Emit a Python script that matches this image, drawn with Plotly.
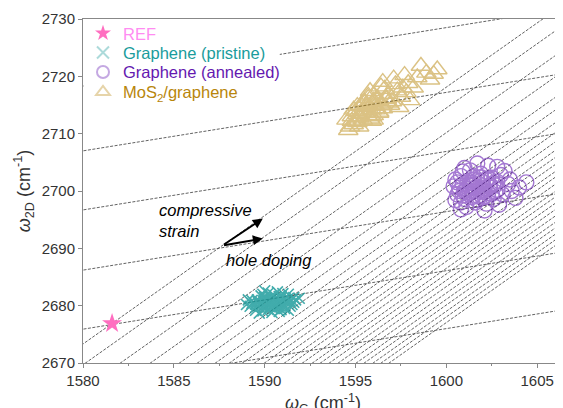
import plotly.graph_objects as go

# ---------------- data ----------------
ref_G = [1581.6]
ref_2D = [2676.9]

pristine_G = [1590.4, 1589.8, 1591.0, 1590.1, 1590.7, 1589.5, 1591.3, 1590.2, 1590.9, 1589.3,
              1591.5, 1590.5, 1589.9, 1590.0, 1591.1, 1589.6, 1590.6, 1590.3, 1591.3, 1589.5,
              1590.8, 1591.7, 1589.2, 1590.2, 1590.4, 1591.2, 1589.7, 1590.0, 1590.9, 1591.6,
              1589.3, 1590.6, 1590.1, 1591.4, 1589.8, 1590.7, 1589.0, 1591.9, 1590.5, 1589.7,
              1591.0, 1590.3, 1591.6, 1589.1, 1590.8, 1589.9, 1591.3, 1590.0, 1589.5, 1591.1,
              1590.2, 1590.6, 1590.0, 1590.8, 1590.4, 1589.8, 1591.0, 1590.3, 1590.5, 1590.1,
              1590.7, 1589.9, 1591.2, 1590.4, 1590.6, 1589.6, 1590.9, 1590.2, 1591.1, 1590.0,
              1590.5, 1589.7, 1590.8, 1590.3, 1591.4, 1589.9, 1590.6, 1590.1, 1590.9, 1590.4]
pristine_2D = [2680.5, 2680.1, 2680.9, 2681.1, 2679.8, 2679.7, 2681.3, 2679.3, 2681.6, 2680.4,
               2680.2, 2681.8, 2679.1, 2681.5, 2679.5, 2681.0, 2680.0, 2681.0, 2682.0, 2679.2,
               2680.4, 2681.0, 2679.9, 2682.2, 2678.8, 2680.6, 2680.7, 2680.0, 2679.3, 2681.4,
               2680.9, 2681.4, 2679.7, 2679.9, 2681.7, 2682.4, 2680.2, 2681.3, 2679.5, 2678.7,
               2682.1, 2680.2, 2680.6, 2681.0, 2679.0, 2682.0, 2679.2, 2682.6, 2680.3, 2681.2,
               2680.3, 2680.8, 2680.6, 2680.0, 2681.2, 2680.5, 2680.3, 2679.8, 2680.9, 2681.4,
               2681.0, 2679.9, 2680.7, 2680.0, 2679.6, 2680.8, 2681.3, 2680.6, 2680.0, 2681.1,
               2680.4, 2680.2, 2681.6, 2681.5, 2680.8, 2680.9, 2680.4, 2680.3, 2680.6, 2679.7]

annealed_G = [1601.8, 1601.2, 1602.4, 1600.9, 1602.1, 1601.5, 1600.7, 1602.8, 1601.0, 1602.5,
              1600.6, 1603.1, 1601.6, 1601.9, 1600.9, 1603.4, 1602.2, 1600.7, 1601.3, 1603.0,
              1600.6, 1602.6, 1601.4, 1602.0, 1600.8, 1603.6, 1601.1, 1602.9, 1600.5, 1602.3,
              1604.4, 1600.8, 1603.2, 1601.7, 1600.4, 1602.7, 1601.0, 1603.8, 1600.9, 1602.1,
              1601.5, 1601.0, 1603.5, 1602.4, 1600.5, 1601.9, 1604.0, 1600.8, 1602.8, 1601.3,
              1601.6, 1602.0, 1601.4, 1602.3, 1601.8, 1601.1, 1602.6, 1601.7, 1602.1, 1601.3,
              1601.9, 1602.4, 1601.5, 1602.0, 1601.2, 1602.7, 1601.6, 1601.9, 1602.2, 1601.4,
              1601.8, 1602.5, 1601.0, 1602.1, 1601.7, 1601.5, 1602.3, 1601.9, 1602.8, 1601.3]
annealed_2D = [2700.3, 2699.5, 2701.0, 2701.2, 2699.0, 2702.0, 2700.0, 2700.2, 2698.6, 2702.3,
               2701.5, 2699.4, 2698.0, 2703.0, 2699.2, 2701.2, 2697.8, 2700.6, 2703.6, 2702.8,
               2699.4, 2698.6, 2700.9, 2701.6, 2702.6, 2700.0, 2697.2, 2697.6, 2702.0, 2704.4,
               2701.5, 2698.0, 2703.5, 2704.8, 2700.8, 2699.8, 2700.0, 2698.8, 2703.4, 2696.6,
               2699.2, 2704.0, 2702.0, 2700.6, 2698.4, 2701.8, 2700.6, 2696.8, 2704.2, 2701.4,
               2700.0, 2700.8, 2701.4, 2699.6, 2699.0, 2700.4, 2701.4, 2701.9, 2699.8, 2700.9,
               2702.4, 2700.7, 2699.9, 2698.8, 2701.8, 2701.0, 2700.6, 2699.3, 2702.0, 2698.9,
               2701.2, 2699.5, 2699.9, 2700.5, 2698.4, 2702.6, 2702.2, 2700.1, 2701.6, 2699.7]

mos2_G = [1596.2, 1595.6, 1596.8, 1595.1, 1597.3, 1594.8, 1597.9, 1596.0, 1596.5, 1595.3,
          1597.0, 1595.0, 1595.9, 1596.6, 1594.7, 1598.4, 1595.7, 1597.5, 1596.3, 1594.9,
          1598.9, 1599.5, 1595.4, 1597.2, 1596.9, 1595.1, 1597.7, 1598.2, 1596.1, 1594.6,
          1595.8, 1596.4, 1594.8, 1597.4, 1598.6, 1595.2, 1596.7, 1597.8, 1595.5, 1599.1,
          1594.5, 1596.0, 1597.1, 1598.0, 1595.9, 1594.9, 1596.5, 1597.6, 1599.3, 1595.3,
          1595.6, 1596.1, 1595.2, 1596.4, 1595.8, 1595.4, 1596.7, 1596.0, 1595.5, 1596.3,
          1595.9, 1595.1, 1596.5, 1595.7, 1596.2, 1595.3, 1596.8, 1595.6, 1596.0, 1595.9]
mos2_2D = [2715.8, 2714.6, 2716.9, 2713.4, 2717.5, 2712.2, 2718.8, 2716.8, 2714.9, 2715.0,
           2715.6, 2713.9, 2713.0, 2717.8, 2711.2, 2719.8, 2716.2, 2716.4, 2713.8, 2711.6,
           2720.6, 2721.2, 2712.4, 2718.6, 2715.0, 2714.8, 2720.2, 2718.0, 2714.2, 2710.6,
           2717.4, 2718.2, 2713.0, 2714.6, 2721.8, 2711.2, 2716.2, 2717.2, 2715.6, 2719.4,
           2712.4, 2712.4, 2719.6, 2715.8, 2715.2, 2714.2, 2719.0, 2718.0, 2720.4, 2713.6,
           2713.8, 2714.8, 2712.8, 2715.2, 2712.6, 2714.0, 2716.0, 2713.2, 2715.4, 2713.6,
           2714.2, 2712.0, 2714.4, 2716.6, 2716.2, 2713.0, 2715.4, 2715.0, 2715.7, 2712.2]

# strain lines (slope d w2D / d wG), given by their wG at w2D = 2670
strain_slope = 2.24
strain_G_at_2670 = [1578.52, 1580.14, 1582.06, 1583.71, 1585.31, 1586.30, 1587.29, 1588.06,
                    1588.78, 1589.44, 1589.99, 1590.54, 1591.09, 1591.53, 1592.08, 1592.63,
                    1593.07, 1593.56, 1594.05, 1594.55, 1595.04, 1595.48, 1595.97, 1596.41,
                    1596.85]
# doping lines, given by their w2D at wG = 1580
doping_slope = 0.51
doping_2D_at_1580 = [2718.3, 2707.0, 2696.7, 2686.2, 2675.9, 2665.8]

x_range = [1580, 1606.42]
y_range = [2670, 2730]

FONT = "Liberation Sans, Arial, sans-serif"

# ---------------- figure ----------------
fig = go.Figure()

lx, ly = [], []
for g0 in strain_G_at_2670:
    for w in (2650, 2750):
        lx.append(g0 + (w - 2670) / strain_slope)
        ly.append(w)
    lx.append(None); ly.append(None)
for d0 in doping_2D_at_1580:
    for g in (1570, 1615):
        lx.append(g)
        ly.append(d0 + doping_slope * (g - 1580))
    lx.append(None); ly.append(None)

fig.add_trace(go.Scatter(x=lx, y=ly, mode="lines", showlegend=False, hoverinfo="skip",
                         line=dict(color="#3a3a3a", width=0.8, dash="3px,1.5px")))

series = [
    dict(x=ref_G, y=ref_2D, name="REF", tcol="#ff8cf2", sym="star", size=15,
         col="#ff6ec0", op=1.0, lop=1.0, lw=0),
    dict(x=pristine_G, y=pristine_2D, name="Graphene (pristine)", tcol="#1a9c9c",
         sym="x-thin-open", size=11, col="#139898", op=0.8, lop=0.35, lw=1.6),
    dict(x=annealed_G, y=annealed_2D, name="Graphene (annealed)", tcol="#6418b0",
         sym="circle-open", size=15, col="#5a0aae", op=0.55, lop=0.35, lw=1.4),
    dict(x=mos2_G, y=mos2_2D, name="MoS<sub>2</sub>/graphene", tcol="#b8860b",
         sym="triangle-up-open", size=17, col="#b8860b", op=0.5, lop=0.35, lw=1.4),
]
for s in series:
    mk = dict(symbol=s["sym"], size=s["size"], color=s["col"])
    if s["lw"]:
        mk["line"] = dict(width=s["lw"], color=s["col"])
    fig.add_trace(go.Scatter(x=s["x"], y=s["y"], mode="markers", showlegend=False,
                             opacity=s["op"], marker=mk))

# one legend per entry so the row spacing can follow the reference
legend_names = ["legend", "legend2", "legend3", "legend4"]
legend_rows_y = [0.958, 0.902, 0.845, 0.787]
for s, lg in zip(series, legend_names):
    mk = dict(symbol=s["sym"], size=s["size"], color=s["col"])
    if s["lw"]:
        mk["line"] = dict(width=s["lw"], color=s["col"])
    fig.add_trace(go.Scatter(x=[None], y=[None], mode="markers", opacity=s["lop"],
                             name="<span style='color:%s'>%s</span>" % (s["tcol"], s["name"]),
                             marker=mk, legend=lg, showlegend=True))

# white box behind the legend entries
fig.add_shape(type="rect", xref="paper", yref="paper", x0=0.002, x1=0.41, y0=0.75, y1=0.997,
              fillcolor="white", line=dict(width=0), layer="above")

# arrows
origin = (1587.68, 2690.5)
for tip in [(1589.9, 2695.2), (1589.9, 2691.7)]:
    fig.add_annotation(x=tip[0], y=tip[1], ax=origin[0], ay=origin[1], axref="x", ayref="y",
                       xref="x", yref="y", text="", showarrow=True, arrowhead=2, arrowsize=1,
                       arrowwidth=2, arrowcolor="black", standoff=0, startstandoff=0)
fig.add_annotation(x=1584.1, y=2698.6, xref="x", yref="y", text="<i>compressive<br>strain</i>",
                   showarrow=False, xanchor="left", yanchor="top", align="left",
                   font=dict(size=16.5, color="black", family=FONT))
fig.add_annotation(x=1587.75, y=2688.0, xref="x", yref="y", text="<i>hole doping</i>",
                   showarrow=False, xanchor="left", yanchor="middle",
                   font=dict(size=16.5, color="black", family=FONT))

legend_common = dict(x=0, xanchor="left", yanchor="middle", bgcolor="rgba(0,0,0,0)",
                     font=dict(size=16.5, family=FONT), borderwidth=0,
                     itemsizing="constant")
layout_legends = {}
for lg, yy in zip(legend_names, legend_rows_y):
    layout_legends[lg] = dict(legend_common, y=yy)

fig.update_layout(
    width=563, height=408,
    margin=dict(l=75, r=8, t=11, b=53),
    paper_bgcolor="white", plot_bgcolor="white",
    font=dict(family=FONT, size=15, color="#333333"),
    xaxis=dict(range=x_range, showgrid=False, zeroline=False, showline=True,
               linecolor="#888888", linewidth=1, mirror=True, ticks="outside",
               ticklen=4, tickcolor="#888888", dtick=5, tick0=1580, automargin=False,
               minor=dict(ticks="outside", ticklen=2, dtick=2.5, tickcolor="#888888"),
               title=dict(text="<i>ω</i><sub>G</sub> (cm<sup>-1</sup>)", font=dict(size=18),
                          standoff=9)),
    yaxis=dict(range=y_range, showgrid=False, zeroline=False, showline=True,
               linecolor="#888888", linewidth=1, ticks="outside", ticklen=4,
               tickcolor="#888888", dtick=10, automargin=False,
               title=dict(text="<i>ω</i><sub>2D</sub> (cm<sup>-1</sup>)", font=dict(size=18),
                          standoff=6)),
    **layout_legends,
)

fig.write_html("out.html")
